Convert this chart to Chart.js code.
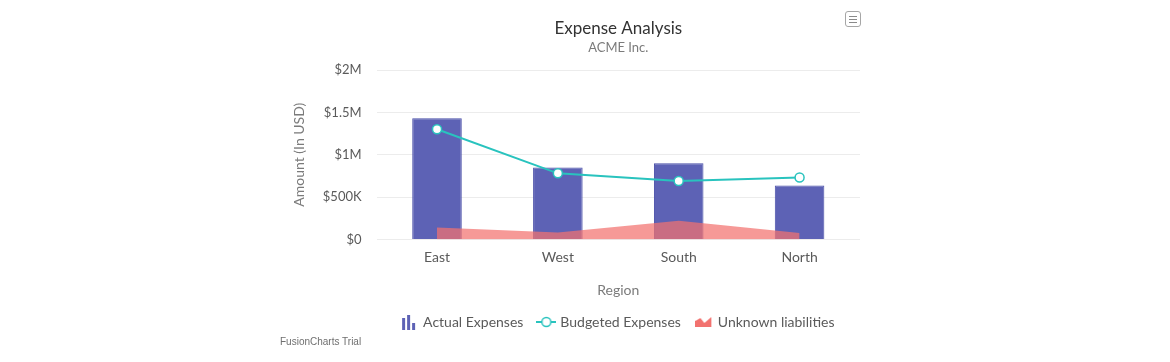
<!DOCTYPE html>
<html>
<head>
<meta charset="utf-8">
<script src="https://cdn.jsdelivr.net/npm/chart.js@4"></script>
<style>
  body { margin: 0; background: #fff; }
  #wrap { position: relative; width: 1170px; height: 362px; }
  #trial { position: absolute; left: 280px; top: 336px; font: 10px "Liberation Sans", Arial, sans-serif; color: #6f6f6f; }
  #menu { position: absolute; left: 845px; top: 11px; width: 16px; height: 16px; border: 1px solid #a6a6a6; border-radius: 3px; box-sizing: border-box; }
  #menu i { position: absolute; left: 3px; width: 8px; height: 1px; background: #8a8a8a; }
</style>
</head>
<body>
<div id="wrap">
  <canvas id="myChart" width="1170" height="362"></canvas>
  <div id="menu"><i style="top:4px"></i><i style="top:7px"></i><i style="top:10px"></i></div>
  <div id="trial">FusionCharts Trial</div>
</div>
<script>
var regions = ['East', 'West', 'South', 'North'];
var actualExpenses = [1430000, 850000, 900000, 635000];
var budgetedExpenses = [1300000, 780000, 690000, 730000];
var unknownLiabilities = [140000, 80000, 220000, 75000];
var yTicks = { max: 2000000, step: 500000 };

var fontFamily = '"Source Sans Pro", Lato, "Noto Sans", sans-serif';

// legend icons
function icon(w, h, draw) {
    var c = document.createElement('canvas');
    c.width = w; c.height = h;
    draw(c.getContext('2d'));
    return c;
}
var barIcon = icon(16, 16, function (g) {
    g.fillStyle = '#5d62b5';
    g.fillRect(1, 4, 3, 12);
    g.fillRect(6, 1, 3, 15);
    g.fillRect(11, 9, 3, 7);
});
var lineIcon = icon(20, 12, function (g) {
    g.strokeStyle = '#29c3be';
    g.lineWidth = 2;
    g.beginPath(); g.moveTo(0, 6); g.lineTo(20, 6); g.stroke();
    g.fillStyle = '#fff';
    g.lineWidth = 1.5;
    g.beginPath(); g.arc(10, 6, 4.5, 0, Math.PI * 2); g.fill(); g.stroke();
});
var areaIcon = icon(17, 12, function (g) {
    g.fillStyle = '#f2726f';
    g.beginPath();
    g.moveTo(0, 11); g.lineTo(0, 5); g.lineTo(5, 2); g.lineTo(9, 7);
    g.lineTo(16, 1); g.lineTo(16, 11); g.closePath(); g.fill();
});
var legendIcons = {
    'Actual Expenses': barIcon,
    'Budgeted Expenses': lineIcon,
    'Unknown liabilities': areaIcon
};
var legendOrder = ['Actual Expenses', 'Budgeted Expenses', 'Unknown liabilities'];

var ctx = document.getElementById('myChart').getContext('2d');
var chart = new Chart(ctx, {
    type: 'bar',
    data: {
        labels: regions,
        datasets: [{
            type: 'line',
            label: 'Budgeted Expenses',
            data: budgetedExpenses,
            borderColor: '#29c3be',
            borderWidth: 2,
            pointRadius: 4.5,
            pointBackgroundColor: '#fff',
            pointBorderColor: '#29c3be',
            pointBorderWidth: 1.5,
            tension: 0,
            order: 0
        }, {
            type: 'line',
            label: 'Unknown liabilities',
            data: unknownLiabilities,
            backgroundColor: 'rgba(242,114,111,0.72)',
            borderWidth: 0,
            pointRadius: 0,
            fill: 'origin',
            tension: 0,
            order: 1
        }, {
            label: 'Actual Expenses',
            data: actualExpenses,
            backgroundColor: '#5d62b5',
            borderColor: '#4a4fa8',
            borderWidth: 1,
            categoryPercentage: 1,
            barPercentage: 0.41,
            order: 2
        }]
    },
    options: {
        responsive: false,
        animation: false,
        layout: {
            padding: { left: 287, right: 310, top: 18, bottom: 23 }
        },
        scales: {
            x: {
                grid: { display: false, drawTicks: false },
                border: { display: false },
                ticks: { color: '#5a5a5a', font: { family: fontFamily, size: 14 }, padding: 10 },
                title: { display: true, text: 'Region', color: '#7b7b7b', font: { family: fontFamily, size: 14 }, padding: { top: 6, bottom: 0 } }
            },
            y: {
                min: 0,
                max: yTicks.max,
                grid: { color: '#ececec', drawTicks: false },
                border: { display: false },
                ticks: {
                    stepSize: yTicks.step,
                    color: '#5a5a5a',
                    padding: 15,
                    font: { family: fontFamily, size: 13 },
                    callback: function (v) {
                        if (v === 0) return '$0';
                        if (v >= 1000000) return '$' + (v / 1000000) + 'M';
                        return '$' + (v / 1000) + 'K';
                    }
                },
                title: { display: true, text: 'Amount (In USD)', color: '#7b7b7b', font: { family: fontFamily, size: 14 }, padding: { top: 4, bottom: 0 } }
            }
        },
        plugins: {
            title: {
                display: true,
                text: 'Expense Analysis',
                fullSize: false,
                color: '#333',
                font: { family: fontFamily, size: 17, weight: 'normal' },
                padding: { top: 0, bottom: 2 }
            },
            subtitle: {
                display: true,
                text: 'ACME Inc.',
                fullSize: false,
                color: '#7b7b7b',
                font: { family: fontFamily, size: 13 },
                padding: { bottom: 14 }
            },
            legend: {
                position: 'bottom',
                fullSize: false,
                labels: {
                    usePointStyle: true,
                    color: '#5a5a5a',
                    font: { family: fontFamily, size: 14 },
                    padding: 16,
                    generateLabels: function (c) {
                        var items = Chart.defaults.plugins.legend.labels.generateLabels(c);
                        items.forEach(function (it) { it.pointStyle = legendIcons[it.text]; });
                        return items;
                    },
                    sort: function (a, b) {
                        return legendOrder.indexOf(a.text) - legendOrder.indexOf(b.text);
                    }
                }
            },
            tooltip: { enabled: false }
        }
    }
});
</script>
</body>
</html>
